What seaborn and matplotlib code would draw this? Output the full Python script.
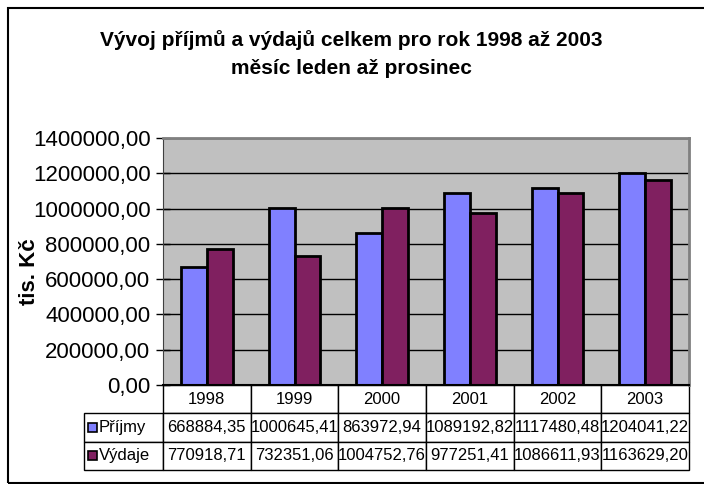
import numpy as np
import pandas as pd
import matplotlib
matplotlib.use('Agg')
import matplotlib.pyplot as plt
from matplotlib.patches import Rectangle
from matplotlib.ticker import FuncFormatter
import seaborn as sns

plt.rcParams['font.family'] = ['Liberation Sans', 'DejaVu Sans']

years = ['1998', '1999', '2000', '2001', '2002', '2003']
prijmy = [668884.35, 1000645.41, 863972.94, 1089192.82, 1117480.48, 1204041.22]
vydaje = [770918.71, 732351.06, 1004752.76, 977251.41, 1086611.93, 1163629.20]
series = ['Příjmy', 'Výdaje']
colors = ['#8080FF', '#802060']

df = pd.DataFrame({
    'rok': years * 2,
    'hodnota': prijmy + vydaje,
    'serie': [series[0]] * len(years) + [series[1]] * len(years),
})

def cz(v):
    return f'{v:.2f}'.replace('.', ',')

fig = plt.figure(figsize=(7.04, 4.84), dpi=100)
ax = fig.add_axes([163 / 704, 1 - 385 / 484, 526 / 704, 247 / 484])
ax.set_facecolor('#C0C0C0')

sns.barplot(data=df, x='rok', y='hodnota', hue='serie', palette=colors,
            saturation=1, width=0.59, gap=0, edgecolor='black', linewidth=2,
            legend=False, ax=ax)

ax.set_ylim(0, 1400000)
ax.set_yticks(np.arange(0, 1400001, 200000))
ax.yaxis.set_major_formatter(FuncFormatter(lambda v, p: cz(v)))
ax.tick_params(axis='y', direction='inout', length=10, width=1, labelsize=16, pad=4)
ax.tick_params(axis='x', length=0, labelbottom=False)
ax.yaxis.grid(True, color='black', linewidth=1)
ax.set_axisbelow(True)
ax.set_xlabel('')
ax.set_ylabel('tis. Kč', fontsize=16, fontweight='bold')
ax.yaxis.set_label_coords(-0.234, 0.457)

for s in ['top', 'right']:
    ax.spines[s].set_color('#808080')
    ax.spines[s].set_linewidth(2)
ax.spines['left'].set_color('#404040')
ax.spines['bottom'].set_color('black')
ax.spines['bottom'].set_linewidth(1.5)

# data table below the axes (first column = legend labels)
lab_w = 79 / 526
cell_text = [[''] + years,
             [series[0]] + [cz(v) for v in prijmy],
             [series[1]] + [cz(v) for v in vydaje]]
tbl = ax.table(cellText=cell_text, colWidths=[lab_w] + [1 / 6] * 6,
               cellLoc='center',
               bbox=[-lab_w, -85 / 247, 1 + lab_w, 85 / 247])
tbl.auto_set_font_size(False)
tbl.set_fontsize(12)
for (r, c), cell in tbl.get_celld().items():
    cell.set_linewidth(1)
    cell.set_edgecolor('black')
    cell.set_facecolor('white')
    if c == 0:
        cell._loc = 'left'
        cell.get_text().set_ha('left')
        cell.PAD = 0.19
        if r == 0:
            cell.visible_edges = ''
            cell.set_facecolor('none')

# legend keys in the table
for i, col in enumerate(colors):
    yc = -(85 / 247) * (1.5 + i) / 3
    ax.add_patch(Rectangle((-lab_w + 4 / 526, yc - 4.5 / 247), 9 / 526, 9 / 247,
                           transform=ax.transAxes, clip_on=False,
                           facecolor=col, edgecolor='black', linewidth=1.2))

fig.text(351 / 704, 1 - 40 / 484, 'Vývoj příjmů a výdajů celkem pro rok 1998 až 2003',
         ha='center', va='center', fontsize=15, fontweight='bold')
fig.text(351 / 704, 1 - 68 / 484, 'měsíc leden až prosinec',
         ha='center', va='center', fontsize=15, fontweight='bold')

fig.add_artist(Rectangle((8 / 704, 1 / 484), 1.0, 1 - 9 / 484, transform=fig.transFigure,
                         fill=False, edgecolor='black', linewidth=1.5))

fig.savefig('out.png', dpi=100)
